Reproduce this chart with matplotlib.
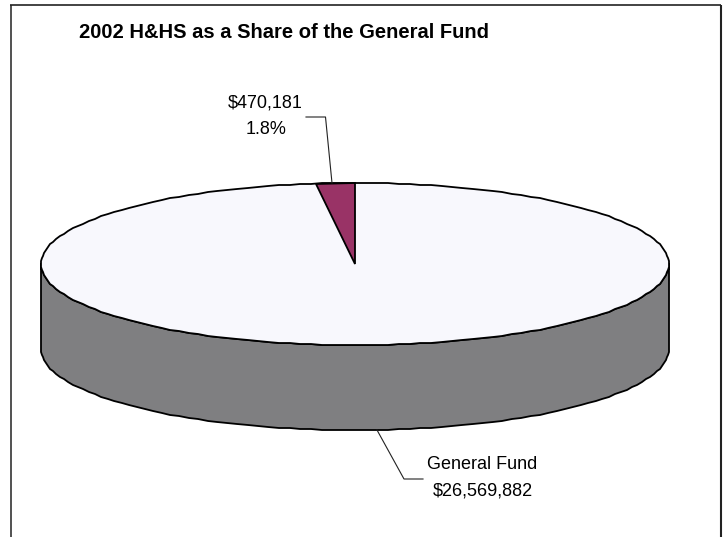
import numpy as np
import matplotlib
matplotlib.use("Agg")
import matplotlib.pyplot as plt

plt.rcParams['font.family'] = ['Liberation Sans', 'DejaVu Sans']

# budget figures
names = ['H&HS', 'General Fund']
amounts = [470181, 26569882]
amount_labels = ['$470,181', '$26,569,882']
percent_label = '1.8%'
title = '2002 H&HS as a Share of the General Fund'

# pie geometry, in pixels
cx, cy = 355, 264
rx, ry = 314, 81
depth = 85
persp = 1.13  # tilted pie opens up slices near the back edge


def rim(a):
    # a in degrees, counter-clockwise from 12 o'clock; vertices snap to pixels
    a = np.radians(a)
    return np.round(cx - rx * np.sin(a)), np.round(cy - ry * np.cos(a))


share = amounts[0] / sum(amounts)
slice_deg = 360 * share * persp

fig = plt.figure(figsize=(7.27, 5.37), dpi=100)
ax = fig.add_axes([0, 0, 1, 1])
ax.set_xlim(0, 727)
ax.set_ylim(537, 0)
ax.axis('off')

# outer frame, open at the bottom
ax.plot([10.5, 10.5], [537, 5], color='#222222', lw=1.1, solid_capstyle='butt')
ax.plot([10, 721], [5, 5], color='#222222', lw=1.2, solid_capstyle='butt')
ax.plot([720.8, 720.8], [4.5, 537], color='#222222', lw=1.5, solid_capstyle='butt')

# side wall: front half of the rim pushed down by depth
front = np.linspace(90, 270, 91)
fx, fy = rim(front)
wall_x = np.concatenate([fx, fx[::-1]])
wall_y = np.concatenate([fy, fy[::-1] + depth])
ax.fill(wall_x, wall_y, facecolor='#7f7f81', edgecolor='black', lw=1.3, joinstyle='round')

# top face
top = np.linspace(0, 360, 181)
tx, ty = rim(top)
ax.fill(tx, ty, facecolor='#f8f8fd', edgecolor='black', lw=1.3, joinstyle='round')

# H&HS slice
sx, sy = rim(np.array([0, slice_deg]))
ax.fill([cx, sx[0], sx[1]], [cy, sy[0], sy[1]], facecolor='#993366',
        edgecolor='black', lw=1.3, joinstyle='miter')

# leader lines start at the middle of each slice's rim
mx, my = rim(slice_deg / 2)
ax.plot([mx - 4, 325.5, 306], [my, 117, 117], color='#222222', lw=0.8)
gx, gy = rim((slice_deg + 360) / 2)
ax.plot([gx + 3, 404, 423], [gy + depth, 479, 479], color='#222222', lw=0.8)

ax.text(79, 32, title, fontsize=14.5, fontweight='bold', ha='left', va='center', color='black')
ax.text(265.5, 103.5, amount_labels[0], fontsize=13, ha='center', va='center', color='black')
ax.text(266, 129.5, percent_label, fontsize=13, ha='center', va='center', color='black')
ax.text(482, 464.5, names[1], fontsize=13, ha='center', va='center', color='black')
ax.text(483, 490.5, amount_labels[1], fontsize=13, ha='center', va='center', color='black')

plt.savefig('out.png', dpi=100)
